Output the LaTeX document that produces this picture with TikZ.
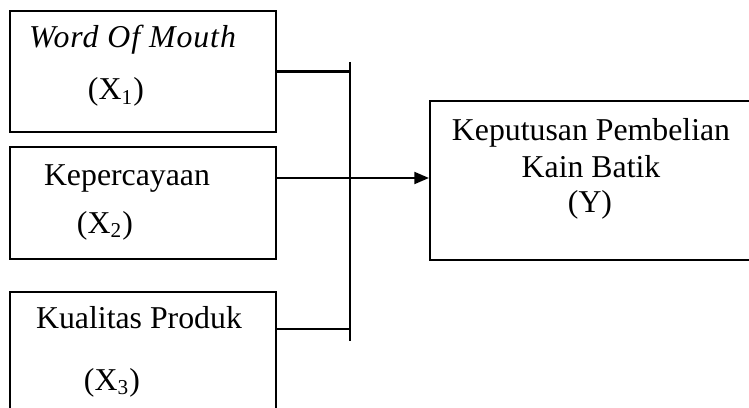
\documentclass[tikz,border=0pt]{standalone}
\usepackage{fontspec}
\setmainfont{Liberation Serif}
\usepackage{tikz}
\usetikzlibrary{arrows.meta, positioning}

\begin{document}
\begin{tikzpicture}[x=0.3774pt, y=-0.3774pt,
          varbox/.style={rectangle, draw, line width=0.8pt, inner sep=0pt},
          lbl/.style={anchor=base, inner sep=0pt, font=\fontsize{12}{14}\selectfont},
          conn/.style={line width=0.8pt},
          arr/.style={-{Triangle[length=5.5pt, width=4.5pt]}, line width=0.8pt}
        ]
        \useasboundingbox (0,0) rectangle (749,408);
        \clip (0,0) rectangle (749,408);

        % variable boxes
        \node[varbox, minimum width=266*0.3774pt, minimum height=121*0.3774pt]
              (x1) at (143, 71.5) {};
        \node[varbox, minimum width=266*0.3774pt, minimum height=112*0.3774pt]
              (x2) at (143, 203) {};
        \node[varbox, minimum width=266*0.3774pt, minimum height=128*0.3774pt]
              (x3) at (143, 356) {};
        \node[varbox, minimum width=330*0.3774pt, minimum height=159*0.3774pt]
              (yv) at (595, 180.5) {};

        % labels
        \node[lbl] (x1a) at (133, 48)
              {\addfontfeatures{LetterSpace=3}\textit{Word Of Mouth}};
        \node[lbl] (x1b) at (116, 100) {(X\textsubscript{1})};
        \node[lbl] (x2a) at (127, 186) {Kepercayaan};
        \node[lbl] (x2b) at (105, 233) {(X\textsubscript{2})};
        \node[lbl] (x3a) at (139, 328) {Kualitas Produk};
        \node[lbl] (x3b) at (112, 390) {(X\textsubscript{3})};
        \node[lbl] (ya) at (591, 141) {Keputusan Pembelian};
        \node[lbl] (yb) at (591, 178) {Kain Batik};
        \node[lbl] (yc) at (590, 213) {(Y)};

        % connectors
        \coordinate (bartop) at (350, 62);
        \coordinate (barbot) at (350, 341);
        \coordinate (j2) at (276, 178);
        \coordinate (j3) at (276, 329);
        \draw[conn] (bartop) -- (barbot);
        \draw[conn] (x1.east) -- (x1.east -| bartop);
        \draw[conn] (j3) -- (j3 -| bartop);
        \draw[arr] (j2) -- (j2 -| yv.west);
\end{tikzpicture}
\end{document}
